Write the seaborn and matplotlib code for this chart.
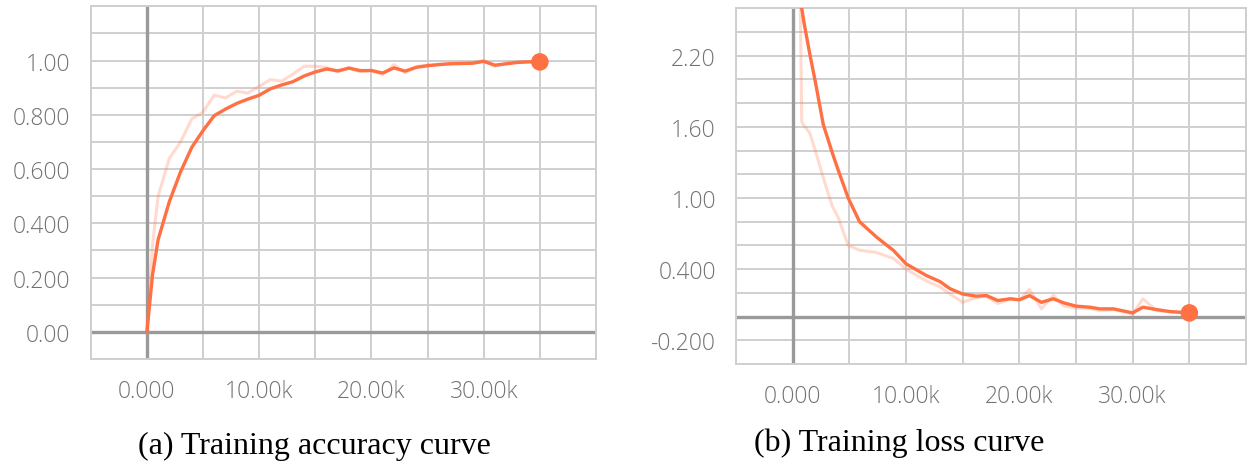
import numpy as np
import pandas as pd
import matplotlib
matplotlib.use("Agg")
import matplotlib.pyplot as plt
import seaborn as sns

# ---- training accuracy (steps, smoothed, raw) ----
acc_steps = [0, 500, 1000, 2000, 3000, 4000, 5000, 6000, 7000, 8000, 9000, 10000,
             11000, 12000, 13000, 14000, 15000, 16000, 17000, 18000, 19000, 20000,
             21000, 22000, 23000, 24000, 25000, 26000, 27000, 28000, 29000, 30000,
             31000, 32000, 33000, 34000, 35000]
acc_smooth = [0.00, 0.21, 0.34, 0.48, 0.59, 0.68, 0.742, 0.797, 0.821, 0.842, 0.858, 0.872,
              0.896, 0.910, 0.922, 0.943, 0.958, 0.969, 0.962, 0.972, 0.963, 0.963,
              0.954, 0.973, 0.961, 0.975, 0.981, 0.985, 0.988, 0.989, 0.990, 0.997,
              0.983, 0.988, 0.993, 0.995, 0.995]
acc_raw = [0.00, 0.32, 0.50, 0.64, 0.70, 0.785, 0.81, 0.873, 0.862, 0.887, 0.880, 0.905,
           0.930, 0.924, 0.950, 0.979, 0.979, 0.975, 0.958, 0.975, 0.958, 0.965,
           0.948, 0.985, 0.955, 0.978, 0.983, 0.986, 0.990, 0.990, 0.992, 1.000,
           0.978, 0.990, 0.995, 0.997, 0.996]

# ---- training loss (steps, smoothed, raw) ----
loss_steps = [600, 800, 1000, 1500, 2000, 2700, 3500, 4000, 4900, 5900, 7400, 8900,
              10000, 11800, 13000, 13900, 15000, 16200, 17100, 18100, 19200, 20000,
              20900, 21950, 23000, 23900, 25000, 26200, 27100, 28300, 30000, 30900,
              32100, 33300, 35000]
loss_smooth = [3.20, 2.60, 2.48, 2.22, 1.98, 1.62, 1.38, 1.24, 1.00, 0.80, 0.67, 0.557,
               0.445, 0.346, 0.295, 0.234, 0.190, 0.172, 0.177, 0.135, 0.150, 0.141,
               0.177, 0.120, 0.150, 0.116, 0.088, 0.079, 0.065, 0.065, 0.031, 0.079,
               0.059, 0.042, 0.031]
loss_raw = [3.20, 1.64, 1.61, 1.55, 1.40, 1.17, 0.93, 0.84, 0.60, 0.56, 0.54, 0.49,
            0.40, 0.30, 0.25, 0.19, 0.12, 0.16, 0.17, 0.11, 0.15, 0.14,
            0.23, 0.065, 0.18, 0.09, 0.07, 0.07, 0.05, 0.06, 0.02, 0.15,
            0.05, 0.04, 0.03]

# ---- axes ticks and labels ----
x_ticks = [-5000, 0, 5000, 10000, 15000, 20000, 25000, 30000, 35000, 40000]
x_labels = ["", "0.000", "", "10.00k", "", "20.00k", "", "30.00k", "", ""]

acc_yticks = [-0.1, 0.0, 0.1, 0.2, 0.3, 0.4, 0.5, 0.6, 0.7, 0.8, 0.9, 1.0, 1.1, 1.2]
acc_ylabels = ["", "0.00", "", "0.200", "", "0.400", "", "0.600", "", "0.800", "", "1.00", "", ""]

loss_yticks = [-0.4, -0.2, 0.0, 0.2, 0.4, 0.6, 0.8, 1.0, 1.2, 1.4, 1.6, 1.8, 2.0, 2.2, 2.4, 2.6]
loss_ylabels = ["", "-0.200", "", "", "0.400", "", "", "1.00", "", "", "1.60", "", "", "2.20", "", ""]

captions = ["(a) Training accuracy curve", "(b) Training loss curve"]

LINE = "#ff7043"
GRID = "#cfcfcf"
ZERO = "#9a9a9a"
TICKTXT = "#727272"

sns.set_style("white")
plt.rcParams["font.family"] = ["Open Sans", "DejaVu Sans"]

fig = plt.figure(figsize=(12.5, 4.64), dpi=100)
ax_a = fig.add_axes([0.0726, 0.2241, 0.4042, 0.7602])
ax_b = fig.add_axes([0.5888, 0.2134, 0.4080, 0.7666])


def draw_panel(ax, steps, smooth, raw, yticks, ylabels, ylim):
    df = pd.DataFrame({"step": steps, "smooth": smooth, "raw": raw})
    sns.lineplot(data=df, x="step", y="raw", ax=ax, color=LINE, alpha=0.25,
                 linewidth=2.2, zorder=3)
    sns.lineplot(data=df, x="step", y="smooth", ax=ax, color=LINE,
                 linewidth=2.4, zorder=4)
    sns.scatterplot(data=df.iloc[[-1]], x="step", y="smooth", ax=ax, color=LINE,
                    s=160, edgecolor="none", zorder=5, clip_on=False)
    ax.set_xlim(-5000, 40000)
    ax.set_ylim(*ylim)
    ax.set_xticks(x_ticks)
    ax.set_xticklabels(x_labels)
    ax.set_yticks(yticks)
    ax.set_yticklabels(ylabels)
    ax.grid(True, color=GRID, linewidth=1.4, zorder=0)
    ax.axhline(0, color=ZERO, linewidth=2.4, zorder=1)
    ax.axvline(0, color=ZERO, linewidth=2.4, zorder=1)
    for s in ax.spines.values():
        s.set_color(GRID)
        s.set_linewidth(1.4)
    ax.tick_params(axis="both", length=7.5, width=1.4, color=GRID,
                   labelcolor=TICKTXT, labelsize=16.5, pad=7)
    for lab in ax.get_xticklabels() + ax.get_yticklabels():
        lab.set_fontweight("light")
    ax.set_xlabel("")
    ax.set_ylabel("")


draw_panel(ax_a, acc_steps, acc_smooth, acc_raw, acc_yticks, acc_ylabels, (-0.1, 1.2))
draw_panel(ax_b, loss_steps, loss_smooth, loss_raw, loss_yticks, loss_ylabels, (-0.4, 2.6))

fig.text(0.2512, 0.0388, captions[0], ha="center", va="center",
         family=["Liberation Serif", "DejaVu Serif"], fontsize=23, color="black")
fig.text(0.7192, 0.0453, captions[1], ha="center", va="center",
         family=["Liberation Serif", "DejaVu Serif"], fontsize=23, color="black")

fig.savefig("out.png", dpi=100, facecolor="white")
